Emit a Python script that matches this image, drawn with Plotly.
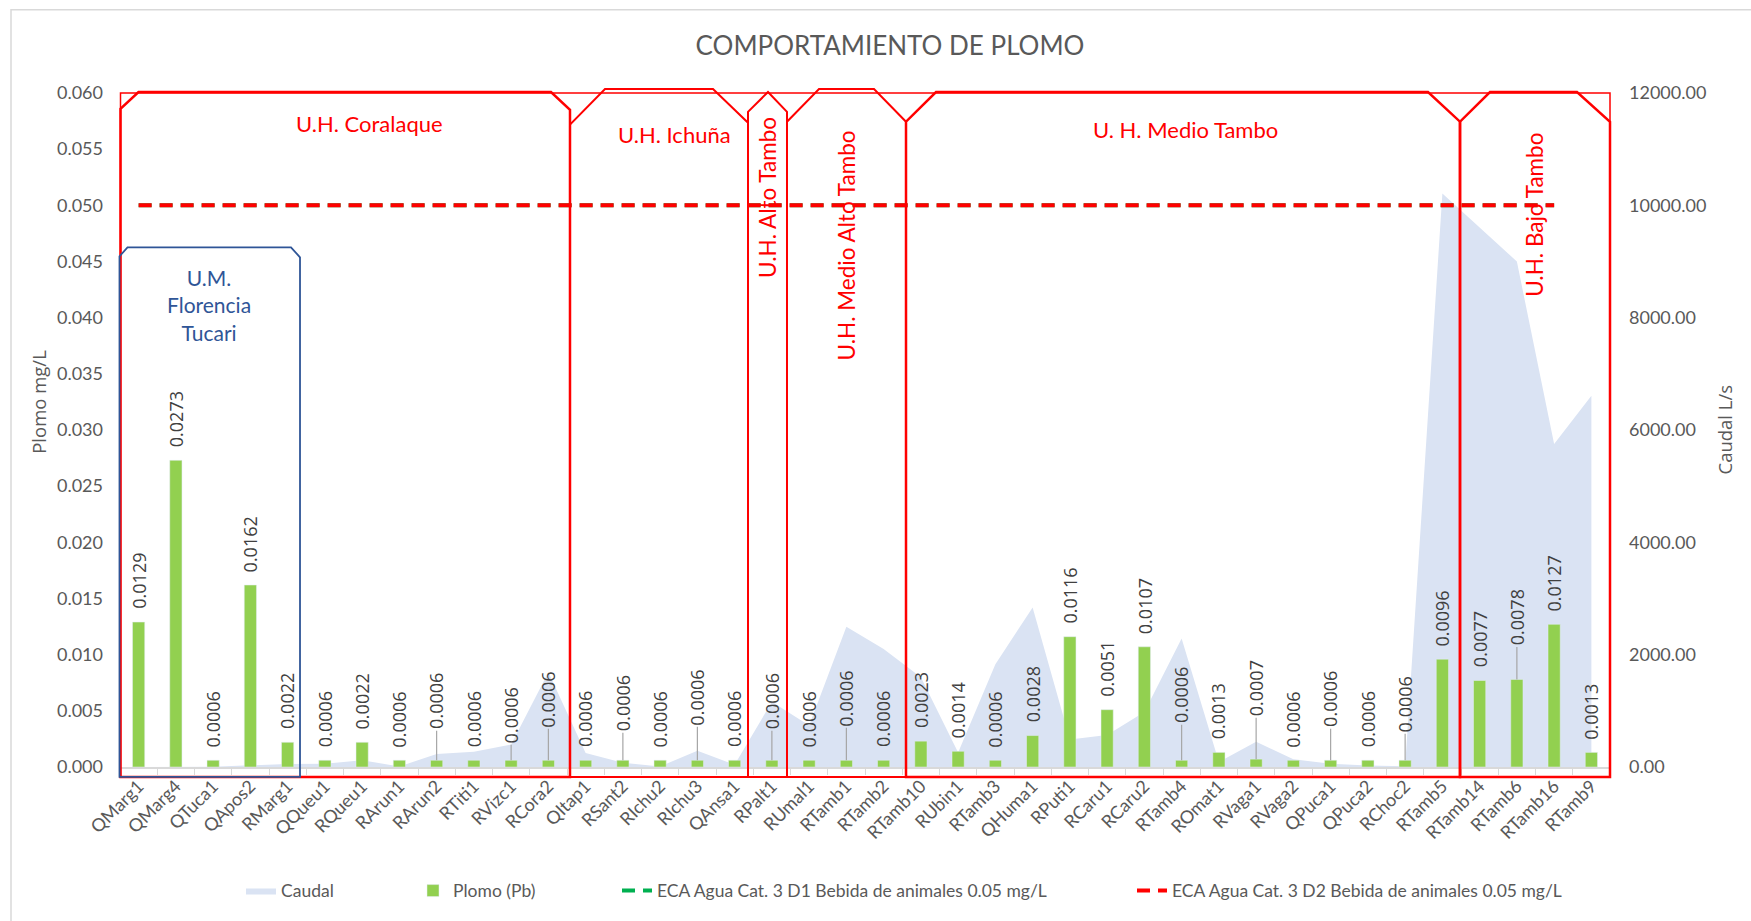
import plotly.graph_objects as go

# ---------------- data ----------------
categories = ["QMarg1", "QMarg4", "QTuca1", "QApos2", "RMarg1", "QQueu1", "RQueu1", "RArun1",
              "RArun2", "RTiti1", "RVizc1", "RCora2", "QItap1", "RSant2", "RIchu2", "RIchu3",
              "QAnsa1", "RPalt1", "RUmal1", "RTamb1", "RTamb2", "RTamb10", "RUbin1", "RTamb3",
              "QHuma1", "RPuti1", "RCaru1", "RCaru2", "RTamb4", "ROmat1", "RVaga1", "RVaga2",
              "QPuca1", "QPuca2", "RChoc2", "RTamb5", "RTamb14", "RTamb6", "RTamb16", "RTamb9"]

plomo = [0.0129, 0.0273, 0.0006, 0.0162, 0.0022, 0.0006, 0.0022, 0.0006,
         0.0006, 0.0006, 0.0006, 0.0006, 0.0006, 0.0006, 0.0006, 0.0006,
         0.0006, 0.0006, 0.0006, 0.0006, 0.0006, 0.0023, 0.0014, 0.0006,
         0.0028, 0.0116, 0.0051, 0.0107, 0.0006, 0.0013, 0.0007, 0.0006,
         0.0006, 0.0006, 0.0006, 0.0096, 0.0077, 0.0078, 0.0127, 0.0013]

caudal = [2, 3, 5, 30, 55, 60, 120, 10,
          230, 270, 400, 1685, 250, 75, 10, 290,
          40, 1160, 740, 2495, 2100, 1600, 260, 1830,
          2840, 490, 570, 980, 2290, 90, 450, 140,
          60, 25, 12, 10210, 9600, 9000, 5750, 6610]

eca_d1 = [0.05, 0.05, 0.05, 0.05, 0.05, 0.05, 0.05, 0.05, 0.05, 0.05,
          0.05, 0.05, 0.05, 0.05, 0.05, 0.05, 0.05, 0.05, 0.05, 0.05,
          0.05, 0.05, 0.05, 0.05, 0.05, 0.05, 0.05, 0.05, 0.05, 0.05,
          0.05, 0.05, 0.05, 0.05, 0.05, 0.05, 0.05, 0.05, 0.05, None]
eca_d2 = list(eca_d1)

# labels that were dragged upward with a leader line (gap in px above the bar)
moved_labels = {"RArun2": 30, "RVizc1": 16, "RCora2": 32, "RSant2": 28, "RIchu3": 34,
                "RPalt1": 30, "RTamb1": 33, "RTamb4": 36, "RVaga1": 42, "QPuca1": 32,
                "RChoc2": 27, "RTamb6": 33}

# ---------------- geometry helpers ----------------
W, H = 1751, 921
PL, PR, PT, PB = 120, 1610, 93, 774
GRAY = "#595959"
FONT = "Lato"


def xp(px):
    return (px - PL) / (PR - PL)


def yp(py):
    return (PB - py) / (PB - PT)


def pt(x, y):
    return f"{xp(x):.5f},{yp(y):.5f}"


def snip_path(x0, x1, top, sl, sr, bottom=784):
    return ("M" + pt(x0, bottom) + " L" + pt(x0, top + sl[1]) + " L" + pt(x0 + sl[0], top) +
            " L" + pt(x1 - sr[0], top) + " L" + pt(x1, top + sr[1]) + " L" + pt(x1, bottom) + " Z")


fig = go.Figure()

# area (caudal) on primary y (right side) so bars draw over it
fig.add_trace(go.Scatter(
    x=categories, y=caudal, name="Caudal", mode="lines", fill="tozeroy",
    line=dict(width=0, color="#DAE3F3"), fillcolor="#DAE3F3", yaxis="y",
    legend="legend", showlegend=True))

fig.add_trace(go.Bar(
    x=categories, y=plomo, name="Plomo (Pb)", marker_color="#92D050",
    yaxis="y2", legend="legend2", showlegend=True))

fig.add_trace(go.Scatter(
    x=categories, y=eca_d1, name="ECA Agua Cat. 3 D1 Bebida de animales 0.05 mg/L",
    mode="lines", line=dict(color="#00B050", width=4, dash="13px,8px"),
    yaxis="y2", legend="legend3", showlegend=True))

fig.add_trace(go.Scatter(
    x=categories, y=eca_d2, name="ECA Agua Cat. 3 D2 Bebida de animales 0.05 mg/L",
    mode="lines", line=dict(color="#FF0000", width=4, dash="13px,8px"),
    yaxis="y2", legend="legend4", showlegend=True))

annotations = []
LABEL_FONT = dict(family="Open Sans", size=18, color="#404040")
# data labels
for c, v in zip(categories, plomo):
    txt = f"{v:.4f}"
    if c in moved_labels:
        annotations.append(dict(
            x=c, y=v, xref="x", yref="y2", text=txt, textangle=-90,
            showarrow=True, arrowhead=0, arrowwidth=1.2, arrowcolor="#A6A6A6",
            ax=0, ay=-(moved_labels[c] + 29), standoff=0, font=LABEL_FONT))
    else:
        annotations.append(dict(
            x=c, y=v, xref="x", yref="y2", text=txt, textangle=-90,
            showarrow=False, yanchor="bottom", xanchor="center", yshift=11,
            font=LABEL_FONT))

RED = "#FF0000"
BLUE = "#2F5597"
# region labels
region_labels = [
    ("U.H. Coralaque", 369, 124, 0, RED, 22),
    ("U.H. Ichuña", 674, 135, 0, RED, 22),
    ("U.H. Alto Tambo", 768, 199, -90, RED, 22.5),
    ("U.H. Medio Alto Tambo", 846, 247, -90, RED, 22.5),
    ("U. H. Medio Tambo", 1185, 130, 0, RED, 22),
    ("U.H. Bajo Tambo", 1535, 216, -90, RED, 22.5),
    ("U.M.<br>Florencia<br>Tucari", 208.6, 307, 0, BLUE, 21),
]
for txt, x, y, ang, col, sz in region_labels:
    annotations.append(dict(
        x=xp(x), y=yp(y), xref="paper", yref="paper", text=txt, textangle=ang,
        showarrow=False, xanchor="center", yanchor="middle",
        font=dict(family=FONT, size=sz, color=col)))

# axis titles
annotations.append(dict(x=xp(39), y=yp(405), xref="paper", yref="paper", text="Plomo mg/L",
                        textangle=-90, showarrow=False, xanchor="center", yanchor="middle",
                        font=dict(family="Open Sans", size=18.5, color=GRAY)))
annotations.append(dict(x=xp(1725), y=yp(433), xref="paper", yref="paper", text="Caudal L/s",
                        textangle=-90, showarrow=False, xanchor="center", yanchor="middle",
                        font=dict(family="Open Sans", size=18.5, color=GRAY)))

shapes = []
# outer chart border
shapes.append(dict(type="rect", xref="paper", yref="paper", x0=xp(11), x1=xp(1765),
                   y0=yp(935), y1=yp(9), line=dict(color="#D9D9D9", width=1.5), layer="below"))
# thin red frame
shapes.append(dict(type="rect", xref="paper", yref="paper", x0=xp(120.5), x1=xp(1610),
                   y0=yp(784), y1=yp(93), line=dict(color=RED, width=1.5)))
boxes = [
    (120.5, 570, 92, (18, 17), (19, 18), 2.5),
    (570, 748, 89, (35, 36), (35, 34), 2),
    (787, 906, 89, (32, 33), (32, 33), 2),
    (906, 1460, 92, (30, 30), (32, 30), 2.5),
    (1460, 1610, 92, (30, 30), (33, 30), 2.5),
]
for x0, x1, top, sl, sr, w in boxes:
    shapes.append(dict(type="path", xref="paper", yref="paper",
                       path=snip_path(x0, x1, top, sl, sr), line=dict(color=RED, width=w)))
# pointed Alto Tambo box
shapes.append(dict(type="path", xref="paper", yref="paper",
                   path="M" + pt(748, 784) + " L" + pt(748, 112) + " L" + pt(768, 92) +
                        " L" + pt(787, 112) + " L" + pt(787, 784) + " Z",
                   line=dict(color=RED, width=2)))
# blue U.M. box
shapes.append(dict(type="path", xref="paper", yref="paper",
                   path=snip_path(119.5, 300, 249, (8, 9), (9, 10)),
                   line=dict(color=BLUE, width=1.8)))

legend_common = dict(orientation="h", yanchor="middle", y=yp(899), xanchor="left",
                     font=dict(family=FONT, size=17.5, color=GRAY), bgcolor="rgba(0,0,0,0)",
                     borderwidth=0)

fig.update_layout(
    width=W, height=H,
    showlegend=True,
    margin=dict(l=PL, r=W - PR, t=PT, b=H - PB, pad=0),
    paper_bgcolor="white", plot_bgcolor="white",
    title=dict(text="COMPORTAMIENTO DE PLOMO", x=890 / W, y=1 - 46 / H,
               xanchor="center", yanchor="middle",
               font=dict(family=FONT, size=26, color=GRAY)),
    font=dict(family=FONT, color=GRAY),
    bargap=0.672,
    xaxis=dict(type="category", range=[-0.5, 39.5], showgrid=False, showline=True,
               linecolor="#D9D9D9", linewidth=1.5, ticks="outside", tickson="boundaries",
               ticklen=6, tickcolor="#D9D9D9", tickangle=-45,
               tickfont=dict(family=FONT, size=18, color=GRAY), zeroline=False),
    yaxis=dict(side="right", range=[0, 12000], dtick=2000, tickformat=".2f",
               showgrid=False, zeroline=False, showline=False, ticklabelstandoff=18,
               tickfont=dict(family=FONT, size=18, color=GRAY)),
    yaxis2=dict(side="left", overlaying="y", anchor="x", range=[0, 0.06], dtick=0.005,
                tickformat=".3f", showgrid=False, zeroline=False, showline=False,
                ticklabelstandoff=16, tickfont=dict(family=FONT, size=18, color=GRAY)),
    legend=dict(legend_common, x=xp(241)),
    legend2=dict(legend_common, x=xp(413)),
    legend3=dict(legend_common, x=xp(617)),
    legend4=dict(legend_common, x=xp(1132)),
    annotations=annotations,
    shapes=shapes,
)

fig.write_html("out.html", config={"displayModeBar": False},
               post_script="document.body.style.margin='0px';")
